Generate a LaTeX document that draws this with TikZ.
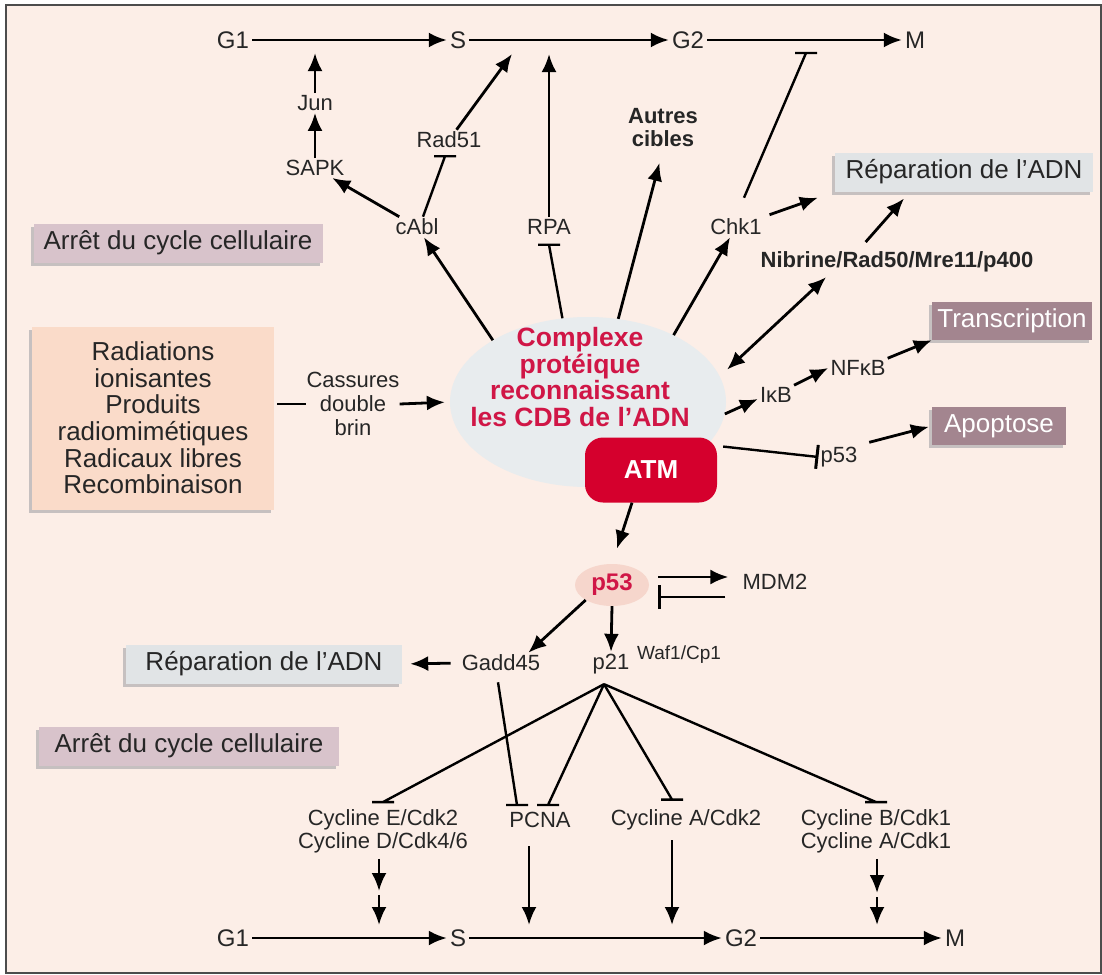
\documentclass[tikz,border=0pt]{standalone}
\usepackage{fontspec}
\setmainfont{Liberation Sans}
\usetikzlibrary{arrows.meta,shapes.geometric,shadows}

\definecolor{bgpeach}{HTML}{FCEEE7}
\definecolor{repgray}{HTML}{E1E4E6}
\definecolor{arretmauve}{HTML}{D8C3CB}
\definecolor{darkmauve}{HTML}{A3858F}
\definecolor{radpeach}{HTML}{FADBC9}
\definecolor{cplxgray}{HTML}{E8ECEE}
\definecolor{atmred}{HTML}{D5002D}
\definecolor{txtred}{HTML}{D01646}
\definecolor{p53pink}{HTML}{F6D6CC}
\definecolor{shadowgray}{HTML}{C6C0C0}

\begin{document}
\begin{tikzpicture}[x=1pt, y=-1pt, >={Latex[length=18pt,width=15pt]},
    every node/.style={text=black!85},
    act/.style={line width=2.8pt, ->},
    inh/.style={line width=2.4pt, -{Bar[width=24pt,line width=3pt]}},
    hinh/.style={line width=2.4pt, to path={-- (\tikztotarget) +(-11pt,0) -- +(11pt,0)}},
    both/.style={line width=2.8pt, <->},
    phase/.style={font=\fontsize{24}{26}\selectfont, inner sep=3pt},
    lbl/.style={font=\fontsize{22}{24}\selectfont, inner sep=2pt, align=center},
    blbl/.style={lbl, font=\fontsize{22}{23}\selectfont\bfseries},
    tag/.style={font=\fontsize{26}{28}\selectfont, minimum height=39pt, inner sep=4pt,
      drop shadow={shadow xshift=-3pt, shadow yshift=-3pt, opacity=1, fill=shadowgray}},
    rep/.style={tag, fill=repgray},
    arret/.style={tag, fill=arretmauve},
    issue/.style={tag, fill=darkmauve, text=white, minimum height=38pt},
  ]
  \useasboundingbox (0,0) rectangle (1102,974);
  \draw[line width=2pt, black!70, fill=bgpeach] (6,5) rectangle (1101,973);

  % cycle du haut
  \node[phase] (g1t) at (233,40) {G1};
  \node[phase] (st) at (458,40) {S};
  \node[phase] (g2t) at (688,40) {G2};
  \node[phase] (mt) at (915,40) {M};
  \draw[act] (g1t) -- (st);
  \draw[act] (st) -- (g2t);
  \draw[act] (g2t) -- (mt);
  \coordinate (tjun) at (315,53);
  \coordinate (trad) at (512,54);
  \coordinate (trpa) at (549,54);
  \coordinate (tchk) at (806,53);

  % boites
  \node[arret, minimum width=289pt] (arrt) at (178,243) {Arrêt du cycle cellulaire};
  \node[arret, minimum width=300pt] (arrb) at (189,746) {Arrêt du cycle cellulaire};
  \node[rep, minimum width=258pt] (rept) at (964,172) {Réparation de l'ADN};
  \node[rep, minimum width=276pt] (repb) at (264,664) {Réparation de l'ADN};
  \node[issue, minimum width=160pt] (trans) at (1012,321) {Transcription};
  \node[issue, minimum width=134pt] (apop) at (999,426) {Apoptose};
  \node[tag, fill=radpeach, minimum width=242pt, minimum height=183pt, align=center,
    font=\fontsize{26}{26.6}\selectfont] (rad) at (153,418)
    {Radiations\\ionisantes\\Produits\\radiomimétiques\\Radicaux libres\\Recombinaison};

  % complexe et ATM
  \node[ellipse, fill=cplxgray, minimum width=276pt, minimum height=170pt] (cplx) at (588,402) {};
  \node[align=center, text=txtred, font=\fontsize{26.5}{26.7}\selectfont\bfseries] (cplxtxt) at (580,377)
    {Complexe\\protéique\\reconnaissant\\les CDB de l'ADN};
  \node[fill=atmred, rounded corners=18pt, minimum width=132pt, minimum height=65pt, text=white,
    font=\fontsize{26}{28}\selectfont\bfseries] (atm) at (651,470) {ATM};
  \node[lbl, inner sep=0pt, font=\fontsize{22}{24}\selectfont] (cass) at (353,404) {Cassures\\double\\brin};
  \draw[line width=2.8pt] ([xshift=3pt]rad.east |- cass) -- (cass.west);
  \draw[act, shorten >=5pt] (cass.east) -- (cplx.west);

  % branche du haut
  \node[lbl] (jun) at (315,103) {Jun};
  \node[lbl] (sapk) at (315,168) {SAPK};
  \node[lbl] (cabl) at (417,227) {cAbl};
  \node[lbl] (rad51) at (449,140) {Rad51};
  \node[lbl] (rpa) at (549,227) {RPA};
  \node[blbl] (autres) at (663,128) {Autres\\cibles};
  \node[lbl] (chk1) at (736,227) {Chk1};
  \node[blbl] (nib) at (897,262) {Nibrine/Rad50/Mre11/p400};
  \draw[act] (jun) -- (tjun);
  \draw[act] (sapk) -- (jun);
  \draw[act] (cabl) -- (sapk);
  \draw[hinh] ([xshift=6pt]cabl.north) to ([shift={(-4pt,-6pt)}]rad51.south);
  \draw[act] (rad51) -- (trad);
  \draw[act] (cplx.147) -- (cabl);
  \draw[hinh] (cplx.107) to ([yshift=-8pt]rpa.south);
  \draw[act] (rpa) -- (trpa);
  \draw[act, shorten >=14pt] (cplx.70) -- (autres.south);
  \draw[act] (cplx.38) -- (chk1);
  \draw[hinh] ([shift={(8pt,19pt)}]chk1.north) to (tchk);
  \draw[act, shorten <=6pt, shorten >=18pt] (chk1.north east) -- (rept.south west);
  \draw[act, shorten <=10pt, shorten >=9pt] ([xshift=-38pt]nib.north) -- ([xshift=-54pt]rept.south);
  \draw[both, shorten <=10pt, shorten >=4pt] (cplx.11) -- ([xshift=-68pt]nib.south);

  % branche de droite
  \node[lbl] (ikb) at (776,395) {IκB};
  \node[lbl] (nfkb) at (858,368) {NFκB};
  \node[lbl] (p53r) at (839,457) {p53};
  \draw[act] (cplx.-5) -- ([yshift=-4pt]ikb.west);
  \draw[act] (ikb.north east) -- (nfkb.west);
  \draw[act] (nfkb.north east) -- (trans.south west);
  \draw[inh, shorten <=6pt] (atm.20) -- (p53r.west);
  \draw[act, shorten <=10pt, shorten >=3pt] (p53r.north east) -- (apop.west);

  % p53
  \node[ellipse, fill=p53pink, minimum width=74pt, minimum height=42pt, inner sep=0pt, text=txtred,
    font=\fontsize{24}{26}\selectfont\bfseries] (p53) at (612,585) {p53};
  \node[lbl] (mdm2) at (775,582) {MDM2};
  \node[lbl] (gadd) at (501,663) {Gadd45};
  \node[lbl] (p21) at (611,664) {p21};
  \node[inner sep=0pt, font=\fontsize{19}{20}\selectfont] (waf) at (679,655) {Waf1/Cp1};
  \draw[act, shorten >=16pt] ([xshift=-19pt]atm.south) -- (p53.north);
  \draw[act, shorten <=9pt, shorten >=12pt] ([yshift=8pt]p53.east) -- ([yshift=5pt]mdm2.west);
  \draw[inh, shorten <=15pt, shorten >=9pt] ([yshift=-15pt]mdm2.west) -- ([yshift=-12pt]p53.east);
  \draw[act] (p53.south west) -- ([xshift=-14pt]gadd.north east);
  \draw[act] (p53.south) -- (p21.north);
  \draw[act, shorten <=9pt, shorten >=8pt] (gadd.west) -- (repb.east);

  % cibles de p21
  \node[lbl, font=\fontsize{22}{23}\selectfont] (cyce) at (383,831) {Cycline E/Cdk2\\Cycline D/Cdk4/6};
  \node[lbl] (pcna) at (540,820) {PCNA};
  \node[lbl] (cyca) at (686,820) {Cycline A/Cdk2};
  \node[lbl, font=\fontsize{22}{23}\selectfont] (cycb) at (876,831) {Cycline B/Cdk1\\Cycline A/Cdk1};
  \coordinate (apex) at ([shift={(-7pt,-8pt)}]p21.south);
  \draw[hinh] ([shift={(-3pt,-9pt)}]gadd.south) to ([shift={(-23pt,5pt)}]pcna.north);
  \draw[hinh] (apex) to ([yshift=5pt]cyce.north);
  \draw[hinh] (apex) to ([shift={(8pt,5pt)}]pcna.north);
  \draw[hinh] (apex) to ([shift={(-14pt,8pt)}]cyca.north);
  \draw[hinh] (apex) to ([yshift=5pt]cycb.north);

  % cycle du bas
  \node[phase] (g1b) at (233,938) {G1};
  \node[phase] (sb) at (458,938) {S};
  \node[phase] (g2b) at (741,938) {G2};
  \node[phase] (mb) at (955,938) {M};
  \draw[act] (g1b) -- (sb);
  \draw[act] (sb) -- (g2b);
  \draw[act] (g2b) -- (mb);
  \coordinate (emid) at (379,891);
  \coordinate (ebot) at (379,925);
  \coordinate (pbot) at (529,925);
  \coordinate (abot) at (672,925);
  \coordinate (bmid) at (877,893);
  \coordinate (bbot) at (877,925);
  \draw[act, shorten <=4pt] (cyce.south -| emid) -- (emid);
  \draw[act, shorten <=4pt] (emid) -- (ebot);
  \draw[act, shorten <=16pt] (pcna.south -| pbot) -- (pbot);
  \draw[act, shorten <=8pt] (cyca.south -| abot) -- (abot);
  \draw[act, shorten <=4pt] (cycb.south -| bmid) -- (bmid);
  \draw[act, shorten <=4pt] (bmid) -- (bbot);
\end{tikzpicture}
\end{document}
